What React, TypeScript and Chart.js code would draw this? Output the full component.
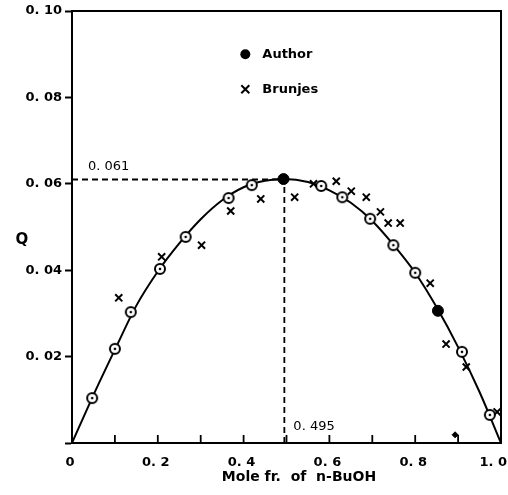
import React, { useEffect, useRef } from "react";
import { Chart, registerables } from "chart.js";

Chart.register(...registerables);

// ---- Data ----
const authorOpenX = [0.047, 0.1, 0.137, 0.205, 0.265, 0.365, 0.419, 0.581, 0.63, 0.695, 0.749, 0.8, 0.909, 0.974];
const authorOpenY = [0.0104, 0.0218, 0.0303, 0.0403, 0.0477, 0.0567, 0.0597, 0.0595, 0.0569, 0.0519, 0.0458, 0.0394, 0.0211, 0.0065];

const authorFilledX = [0.493, 0.853];
const authorFilledY = [0.0611, 0.0306];

const strayX = [0.893];
const strayY = [0.0019];

const brunjesX = [0.109, 0.209, 0.302, 0.37, 0.44, 0.519, 0.563, 0.616, 0.651, 0.686, 0.719, 0.737, 0.765, 0.835, 0.872, 0.919, 0.991];
const brunjesY = [0.0336, 0.0431, 0.0458, 0.0537, 0.0565, 0.0569, 0.06, 0.0606, 0.0583, 0.0569, 0.0535, 0.0509, 0.0509, 0.037, 0.0229, 0.0176, 0.0072];

const curveX = [0, 0.05, 0.1, 0.15, 0.2, 0.25, 0.3, 0.35, 0.4, 0.45, 0.495, 0.55, 0.6, 0.65, 0.7, 0.75, 0.8, 0.85, 0.9, 0.95, 1.0];
const curveY = [0, 0.0111, 0.0216, 0.0318, 0.0397, 0.0462, 0.0518, 0.0562, 0.0592, 0.0607, 0.0611, 0.0604, 0.0585, 0.0556, 0.0514, 0.0458, 0.0394, 0.0314, 0.0222, 0.0118, 0];

const peakX = 0.495;
const peakY = 0.061;
const peakXLabel = "0. 495";
const peakYLabel = "0. 061";

const xTickValues = [0, 0.2, 0.4, 0.6, 0.8, 1.0];
const xTickLabels = ["0", "0. 2", "0. 4", "0. 6", "0. 8", "1. 0"];
const yTickLabels = ["", "0. 02", "0. 04", "0. 06", "0. 08", "0. 10"];

const xTitle = "Mole fr.  of  n-BuOH";
const yTitle = "Q";
const legendNames = ["Author", "Brunjes"];

const FONT = "'DejaVu Sans', sans-serif";

function toPts(xs: number[], ys: number[]) {
  return xs.map((x, i) => ({ x, y: ys[i] }));
}

function makeOpenDotMarker(): HTMLCanvasElement {
  const c = document.createElement("canvas");
  c.width = 14;
  c.height = 14;
  const ctx = c.getContext("2d")!;
  ctx.beginPath();
  ctx.arc(7, 7, 5, 0, Math.PI * 2);
  ctx.fillStyle = "#fff";
  ctx.fill();
  ctx.lineWidth = 2;
  ctx.strokeStyle = "#000";
  ctx.stroke();
  ctx.beginPath();
  ctx.arc(7, 7, 1.3, 0, Math.PI * 2);
  ctx.fillStyle = "#000";
  ctx.fill();
  return c;
}

const decorPlugin = {
  id: "decor",
  afterDraw(chart: any) {
    const { ctx, chartArea, scales, width } = chart;
    const xs = scales.x;
    const ys = scales.y;
    ctx.save();
    // frame (top and right)
    ctx.strokeStyle = "#000";
    ctx.lineWidth = 2;
    ctx.beginPath();
    ctx.moveTo(chartArea.left, chartArea.top);
    ctx.lineTo(chartArea.right, chartArea.top);
    ctx.lineTo(chartArea.right, chartArea.bottom);
    ctx.stroke();
    // x ticks pointing inward
    ctx.lineWidth = 1.8;
    for (let i = 1; i < 10; i++) {
      const px = xs.getPixelForValue(i / 10);
      ctx.beginPath();
      ctx.moveTo(px, chartArea.bottom);
      ctx.lineTo(px, chartArea.bottom - 8);
      ctx.stroke();
    }
    ctx.fillStyle = "#000";
    ctx.textBaseline = "middle";
    // x tick labels
    ctx.font = `bold 13px ${FONT}`;
    xTickValues.forEach((v, i) => {
      const px = xs.getPixelForValue(v);
      const w = ctx.measureText(xTickLabels[i]).width;
      let cx = px - 2;
      if (cx + w / 2 > width - 1) cx = width - 1 - w / 2;
      ctx.textAlign = "center";
      ctx.fillText(xTickLabels[i], cx, chartArea.bottom + 20);
    });
    // annotation labels
    ctx.font = `13px ${FONT}`;
    ctx.textAlign = "left";
    ctx.fillText(peakYLabel, chartArea.left + 16, ys.getPixelForValue(peakY) - 13);
    ctx.fillText(peakXLabel, xs.getPixelForValue(peakX) + 9, chartArea.bottom - 16);
    // legend
    const lx = xs.getPixelForValue(0.404);
    const ly1 = ys.getPixelForValue(0.09);
    const ly2 = ys.getPixelForValue(0.0819);
    ctx.beginPath();
    ctx.arc(lx, ly1, 5, 0, Math.PI * 2);
    ctx.fill();
    ctx.lineWidth = 2;
    ctx.beginPath();
    ctx.moveTo(lx - 4, ly2 - 4);
    ctx.lineTo(lx + 4, ly2 + 4);
    ctx.moveTo(lx + 4, ly2 - 4);
    ctx.lineTo(lx - 4, ly2 + 4);
    ctx.stroke();
    ctx.font = `bold 13px ${FONT}`;
    ctx.fillText(legendNames[0], lx + 17, ly1);
    ctx.fillText(legendNames[1], lx + 17, ly2);
    // y title
    ctx.font = `bold 15px ${FONT}`;
    ctx.textAlign = "center";
    ctx.fillText(yTitle, 22, (chartArea.top + chartArea.bottom) / 2 + 13);
    // x title
    ctx.font = `bold 14px ${FONT}`;
    ctx.fillText(xTitle, 299, chartArea.bottom + 34);
    ctx.restore();
  },
};

export default function App() {
  const ref = useRef<HTMLCanvasElement>(null);
  useEffect(() => {
    if (!ref.current) return;
    const openMarker = makeOpenDotMarker();
    const chart = new Chart(ref.current, {
      type: "scatter",
      data: {
        datasets: [
          {
            label: "Author",
            data: toPts(authorOpenX, authorOpenY),
            pointStyle: openMarker as any,
            pointRadius: 6,
            showLine: false,
            order: 0,
          },
          {
            label: "Author (filled)",
            data: toPts(authorFilledX, authorFilledY),
            pointStyle: "circle",
            pointRadius: 5.5,
            backgroundColor: "#000",
            borderColor: "#000",
            borderWidth: 1,
            showLine: false,
            order: 0,
          },
          {
            label: "stray",
            data: toPts(strayX, strayY),
            pointStyle: "rectRot",
            pointRadius: 3,
            backgroundColor: "#000",
            borderColor: "#000",
            showLine: false,
            order: 0,
          },
          {
            label: "Brunjes",
            data: toPts(brunjesX, brunjesY),
            pointStyle: "crossRot",
            pointRadius: 5,
            borderColor: "#000",
            borderWidth: 2,
            showLine: false,
            order: 0,
          },
          {
            label: "curve",
            data: toPts(curveX, curveY),
            showLine: true,
            borderColor: "#000",
            borderWidth: 2,
            pointRadius: 0,
            cubicInterpolationMode: "monotone",
            order: 1,
          } as any,
          {
            label: "h-dash",
            data: [
              { x: 0, y: peakY },
              { x: peakX, y: peakY },
            ],
            showLine: true,
            borderColor: "#000",
            borderWidth: 1.8,
            borderDash: [6, 4],
            pointRadius: 0,
            order: 2,
          },
          {
            label: "v-dash",
            data: [
              { x: peakX, y: 0 },
              { x: peakX, y: peakY },
            ],
            showLine: true,
            borderColor: "#000",
            borderWidth: 1.8,
            borderDash: [6, 4],
            pointRadius: 0,
            order: 2,
          },
        ],
      },
      options: {
        animation: false,
        responsive: false,
        devicePixelRatio: 1,
        layout: { padding: { top: 11, right: 6, left: 0, bottom: 0 } },
        plugins: {
          legend: { display: false },
          tooltip: { enabled: false },
        },
        scales: {
          x: {
            type: "linear",
            min: 0,
            max: 1,
            ticks: { display: false, stepSize: 0.1 },
            grid: { drawOnChartArea: false, drawTicks: false },
            border: { display: true, color: "#000", width: 2 },
            afterFit: (s: any) => {
              s.height = 52;
              s.paddingLeft = 0;
              s.paddingRight = 0;
            },
          },
          y: {
            type: "linear",
            min: 0,
            max: 0.1,
            ticks: {
              stepSize: 0.02,
              autoSkip: false,
              padding: 3,
              color: "#000",
              font: { family: FONT, size: 13, weight: "bold" },
              callback: (v: any) => yTickLabels[Math.round(Number(v) * 50)] ?? "",
            },
            grid: {
              drawOnChartArea: false,
              drawTicks: true,
              tickLength: 7,
              tickWidth: 2,
              tickColor: "#000",
            },
            border: { display: true, color: "#000", width: 2 },
            afterFit: (s: any) => {
              s.width = 72;
              s.paddingTop = 0;
              s.paddingBottom = 0;
            },
          },
        },
      } as any,
      plugins: [decorPlugin],
    });
    return () => chart.destroy();
  }, []);
  return (
    <div style={{ position: "absolute", left: 0, top: 0, width: 508, height: 495, background: "#fff" }}>
      <canvas ref={ref} width={508} height={495} />
    </div>
  );
}
